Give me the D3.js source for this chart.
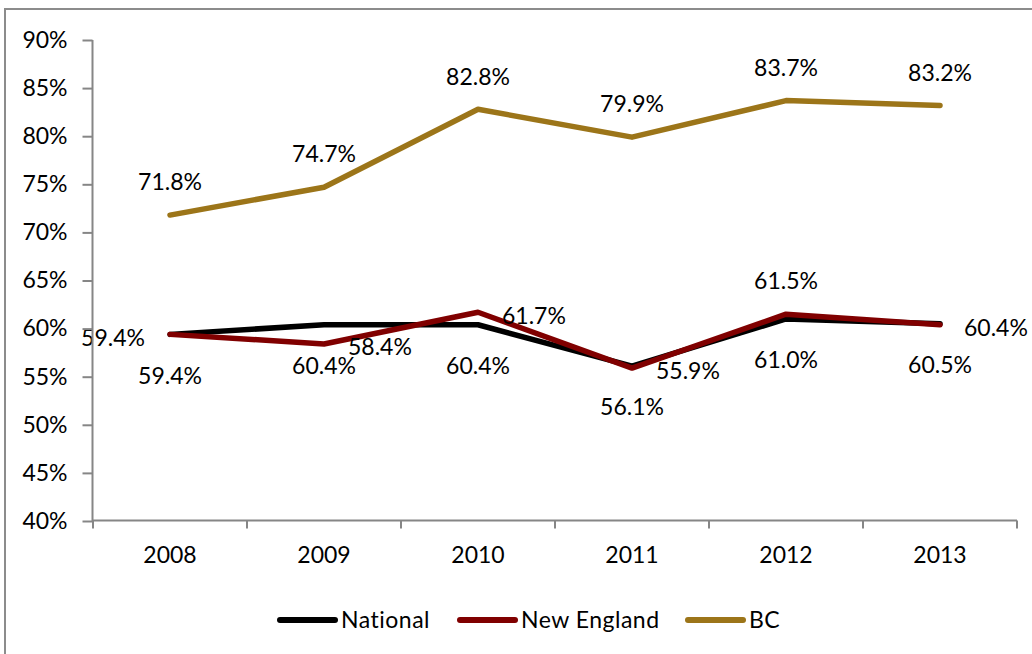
<!DOCTYPE html>
<html>
<head>
<meta charset="utf-8">
<script src="https://cdn.jsdelivr.net/npm/d3@7"></script>
<style>
  body { margin: 0; background: #fff; }
  text { font-family: Lato, "Liberation Sans", sans-serif; fill: #000; }
</style>
</head>
<body>
<div id="main"></div>
<script>
// chart data
var years = ["2008", "2009", "2010", "2011", "2012", "2013"];
var national = [59.4, 60.4, 60.4, 56.1, 61.0, 60.5];
var newEngland = [59.4, 58.4, 61.7, 55.9, 61.5, 60.4];
var bc = [71.8, 74.7, 82.8, 79.9, 83.7, 83.2];
var yTicks = [40, 45, 50, 55, 60, 65, 70, 75, 80, 85, 90];

// where each value label sits relative to its point
var nationalSide = ["below", "below", "below", "below", "below", "below"];
var newEnglandSide = ["left", "right", "right", "right", "above", "right"];
var bcSide = ["above", "above", "above", "above", "above", "above"];

var series = [
    { name: "National", values: national, side: nationalSide, color: "#000000" },
    { name: "New England", values: newEngland, side: newEnglandSide, color: "#800000" },
    { name: "BC", values: bc, side: bcSide, color: "#9c7519" }
];

var width = 1032, height = 654;
var plot = { left: 93, right: 1017, top: 40, bottom: 521 };

var svg = d3.select("#main")
    .append("svg")
    .attr("width", width)
    .attr("height", height);

// outer chart border
svg.append("rect")
    .attr("x", 5)
    .attr("y", 9)
    .attr("width", 1100)
    .attr("height", 800)
    .attr("fill", "none")
    .attr("stroke", "#8c8c8c")
    .attr("stroke-width", 2);

var xScale = d3.scaleBand()
    .domain(years)
    .range([plot.left, plot.right])
    .padding(0);

var yScale = d3.scaleLinear()
    .domain([40, 90])
    .range([plot.bottom, plot.top]);

function px(i) { return xScale(years[i]) + xScale.bandwidth() / 2; }

var line = d3.line()
    .x(function (d, i) { return px(i); })
    .y(function (d) { return yScale(d); });

// the lines
svg.append("g").selectAll("path")
    .data(series)
    .enter()
    .append("path")
    .attr("d", function (d) { return line(d.values); })
    .attr("fill", "none")
    .attr("stroke", function (d) { return d.color; })
    .attr("stroke-width", 5.5)
    .attr("stroke-linecap", "round")
    .attr("stroke-linejoin", "round");

// value labels
series.forEach(function (s) {
    svg.append("g").selectAll("text")
        .data(s.values)
        .enter()
        .append("text")
        .style("font-size", "23px")
        .attr("dy", "0.36em")
        .attr("text-anchor", function (d, i) {
            if (s.side[i] === "left") return "end";
            if (s.side[i] === "right") return "start";
            return "middle";
        })
        .attr("x", function (d, i) {
            if (s.side[i] === "left") return px(i) - 25;
            if (s.side[i] === "right") return px(i) + 24;
            return px(i);
        })
        .attr("y", function (d, i) {
            var y = yScale(d);
            if (s.side[i] === "above") return y - 33;
            if (s.side[i] === "below") return y + 41;
            return y + 3;
        })
        .text(function (d) { return d.toFixed(1) + "%"; });
});

// y axis
var yAxis = svg.append("g")
    .attr("transform", "translate(" + (plot.left - 0.5) + ",0)")
    .call(d3.axisLeft(yScale)
        .tickValues(yTicks)
        .tickSize(10)
        .tickPadding(15)
        .tickFormat(function (d) { return d + "%"; }));
yAxis.select(".domain").attr("stroke", "#868686").attr("stroke-width", 2).attr("d", "M0," + plot.top + "V" + plot.bottom);
yAxis.selectAll(".tick line").attr("stroke", "#868686").attr("stroke-width", 2);
yAxis.selectAll(".tick text").style("font-size", "23px").style("font-family", "Lato, 'Liberation Sans', sans-serif");

// x axis
var xAxis = svg.append("g")
    .attr("transform", "translate(0," + (plot.bottom - 0.5) + ")")
    .call(d3.axisBottom(xScale).tickSize(0).tickPadding(26));
xAxis.select(".domain").attr("stroke", "#868686").attr("stroke-width", 2).attr("d", "M" + plot.left + ",0H" + plot.right);
xAxis.selectAll(".tick text").style("font-size", "23px").style("font-family", "Lato, 'Liberation Sans', sans-serif");

// tick marks sit between categories
var edges = years.map(function (y) { return xScale(y); }).concat([plot.right]);
xAxis.selectAll(".edge")
    .data(edges)
    .enter()
    .append("line")
    .attr("class", "edge")
    .attr("x1", function (d) { return d; })
    .attr("x2", function (d) { return d; })
    .attr("y1", 0)
    .attr("y2", 8)
    .attr("stroke", "#868686")
    .attr("stroke-width", 2);

// legend
var legendX = [280, 460, 688];
var legend = svg.append("g").selectAll("g")
    .data(series)
    .enter()
    .append("g")
    .attr("transform", function (d, i) { return "translate(" + legendX[i] + ",620)"; });

legend.append("line")
    .attr("x1", 0)
    .attr("x2", 55)
    .attr("stroke", function (d) { return d.color; })
    .attr("stroke-width", 6)
    .attr("stroke-linecap", "round");

legend.append("text")
    .attr("x", 61)
    .attr("dy", "0.36em")
    .style("font-size", "23px")
    .style("letter-spacing", "0.5px")
    .text(function (d) { return d.name; });
</script>
</body>
</html>
